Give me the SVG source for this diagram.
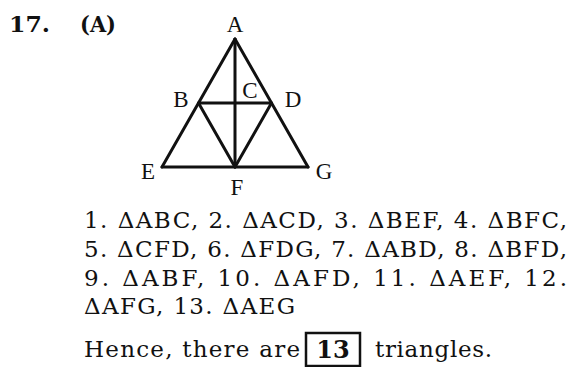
<svg xmlns="http://www.w3.org/2000/svg" width="570" height="367" viewBox="0 0 570 367">
<style>
.edge{stroke:#111;stroke-width:3;stroke-linecap:round;fill:none}
.lbl{font-family:"Liberation Serif",serif;font-size:23px;fill:#111;text-anchor:middle}
.body{font-family:"DejaVu Serif",serif;font-size:23px;fill:#111}
.hd{font-family:"DejaVu Serif",serif;font-weight:bold;font-size:23px;fill:#111}
</style>
<rect width="570" height="367" fill="#fff"/>
<text class="hd" x="9" y="32" textLength="41" lengthAdjust="spacingAndGlyphs">17.</text>
<text class="hd" x="80" y="32" textLength="36" lengthAdjust="spacingAndGlyphs">(A)</text>
<g id="connectors">
<line class="edge" x1="235" y1="39" x2="162" y2="167"/>
<line class="edge" x1="235" y1="39" x2="308" y2="167"/>
<line class="edge" x1="162" y1="167" x2="308" y2="167"/>
<line class="edge" x1="198.5" y1="103" x2="271.5" y2="103"/>
<line class="edge" x1="235" y1="39" x2="235" y2="167"/>
<line class="edge" x1="198.5" y1="103" x2="235" y2="167"/>
<line class="edge" x1="271.5" y1="103" x2="235" y2="167"/>
</g>
<g id="node-A"><text class="lbl" x="235" y="32">A</text></g>
<g id="node-B"><text class="lbl" x="181" y="107">B</text></g>
<g id="node-C"><text class="lbl" x="250" y="98">C</text></g>
<g id="node-D"><text class="lbl" x="293" y="107">D</text></g>
<g id="node-E"><text class="lbl" x="148" y="179">E</text></g>
<g id="node-F"><text class="lbl" x="237" y="195">F</text></g>
<g id="node-G"><text class="lbl" x="324" y="179">G</text></g>
<text class="body" x="84" y="228" textLength="483" lengthAdjust="spacing">1. ΔABC, 2. ΔACD, 3. ΔBEF, 4. ΔBFC,</text>
<text class="body" x="84" y="257" textLength="483" lengthAdjust="spacing">5. ΔCFD, 6. ΔFDG, 7. ΔABD, 8. ΔBFD,</text>
<text class="body" x="84" y="286" textLength="483" lengthAdjust="spacing">9. ΔABF, 10. ΔAFD, 11. ΔAEF, 12.</text>
<text class="body" x="84" y="314" textLength="211" lengthAdjust="spacing">ΔAFG, 13. ΔAEG</text>
<text class="body" x="84" y="357" textLength="216" lengthAdjust="spacing">Hence, there are</text>
<rect x="306" y="333" width="54" height="33" fill="none" stroke="#111" stroke-width="2.5"/>
<text x="333" y="358" font-family="DejaVu Serif,serif" font-weight="bold" font-size="24" fill="#111" text-anchor="middle">13</text>
<text class="body" x="375" y="357" textLength="117" lengthAdjust="spacing">triangles.</text>
</svg>
